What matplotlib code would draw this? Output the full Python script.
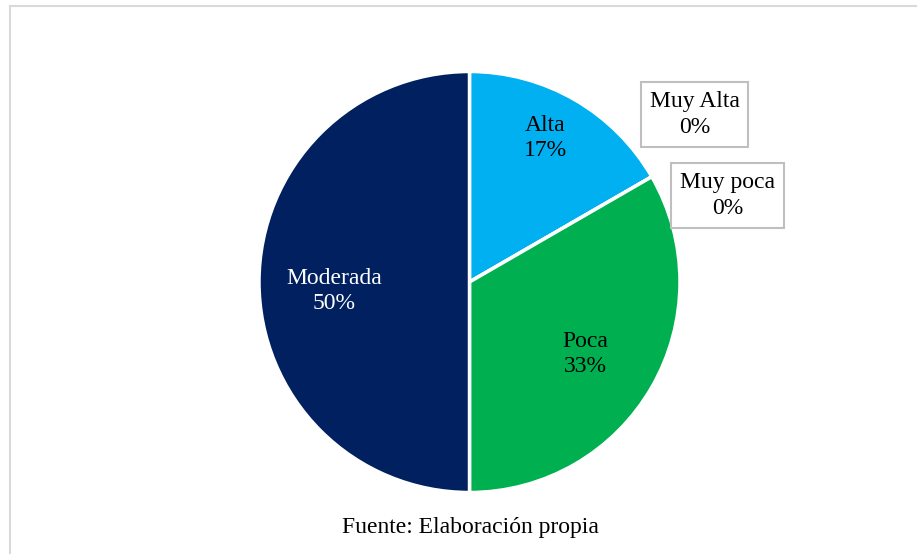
import matplotlib.pyplot as plt
from matplotlib.lines import Line2D

plt.rcParams['font.family'] = ['Liberation Serif', 'DejaVu Serif']

# data (order as the slices run clockwise from the top)
categorias = ['Muy Alta', 'Alta', 'Muy poca', 'Poca', 'Moderada']
valores = [0, 1, 0, 2, 3]
porcentajes = ['0%', '17%', '0%', '33%', '50%']
colores = ['#FFC000', '#00B0F0', '#92D050', '#00B050', '#002060']

# figure in pixel coordinates, y up
fig = plt.figure(figsize=(9.17, 5.54), dpi=100)
ax = fig.add_axes([0, 0, 1, 1])

cx, cy, r = 469.5, 272, 210.5
wedges, _ = ax.pie(valores, colors=colores, startangle=90, counterclock=False,
                   center=(cx, cy), radius=r, frame=True,
                   wedgeprops=dict(edgecolor='white', linewidth=2.5))
ax.set_xlim(0, 917)
ax.set_ylim(0, 554)
ax.axis('off')

# label spots (pixel offsets from pie centre)
pos = {'Alta': (76, 144), 'Poca': (116, -72), 'Moderada': (-135, -9),
       'Muy Alta': (225, 167.5), 'Muy poca': (258, 86.5)}

for cat, v, p in zip(categorias, valores, porcentajes):
    dx, dy = pos[cat]
    txt = cat + '\n' + p
    if v == 0:
        ax.text(cx + dx, cy + dy, txt, ha='center', va='center', fontsize=17,
                linespacing=1.3,
                bbox=dict(boxstyle='square,pad=0.38', fc='white',
                          ec='#BFBFBF', lw=1.5))
    else:
        col = 'white' if cat == 'Moderada' else 'black'
        ax.text(cx + dx, cy + dy, txt, ha='center', va='center', fontsize=17,
                linespacing=1.3, color=col)

ax.text(470, 27, 'Fuente: Elaboración propia', ha='center', va='center',
        fontsize=17)

# chart frame (only left and top edges visible)
fig.add_artist(Line2D([9.5 / 917, 9.5 / 917], [0, 1 - 6 / 554],
                      transform=fig.transFigure, color='#D9D9D9', lw=1.5))
fig.add_artist(Line2D([9.5 / 917, 1], [1 - 6 / 554, 1 - 6 / 554],
                      transform=fig.transFigure, color='#D9D9D9', lw=1.5))

fig.savefig('out.png', dpi=100)
